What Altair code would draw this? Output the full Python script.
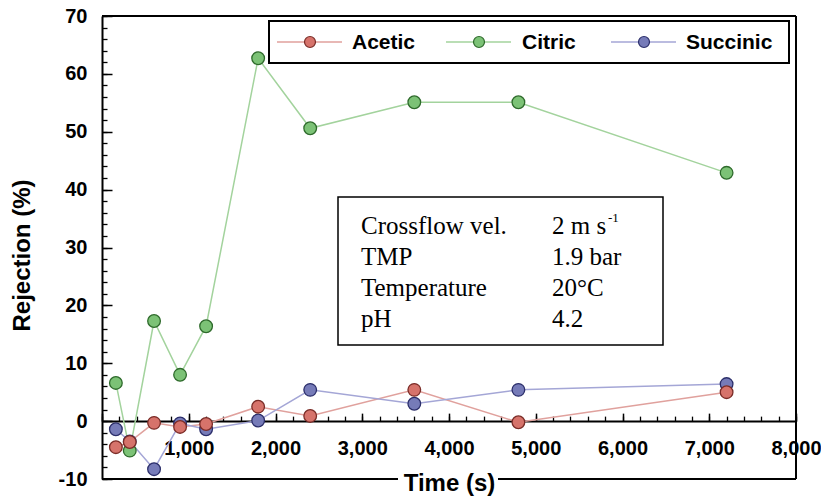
import altair as alt
import pandas as pd

# ---- data ----
times = [160, 320, 600, 900, 1200, 1800, 2400, 3600, 4800, 7200]
acetic = [-4.5, -3.6, -0.3, -1.0, -0.5, 2.5, 0.9, 5.4, -0.2, 5.0]
citric = [6.6, -5.1, 17.3, 8.0, 16.4, 62.7, 50.6, 55.1, 55.1, 42.9]
succinic = [-1.4, -3.5, -8.3, -0.4, -1.4, 0.1, 5.4, 3.0, 5.4, 6.4]

series_names = ["Acetic", "Citric", "Succinic"]
line_colors = ["#e0a19d", "#a3d39d", "#a4a6d6"]
fill_colors = ["#d6736b", "#7cc276", "#767bb8"]
edge_colors = ["#7a2c27", "#2e6a2b", "#2b2e6a"]

x_labels = [1000, 2000, 3000, 4000, 5000, 6000, 7000, 8000]
x_major = [0, 1000, 2000, 3000, 4000, 5000, 6000, 7000, 8000]
x_minor = list(range(0, 8001, 200))
y_major = [-10, 0, 10, 20, 30, 40, 50, 60, 70]
y_minor = list(range(-10, 71, 2))

info_keys = ["Crossflow vel.", "TMP", "Temperature", "pH"]
info_vals = ["2 m s", "1.9 bar", "20\u00b0C", "4.2"]
info_sup = "-1"

# ---- layout ----
W, H = 694, 463
X_DOM = [0, 8000]
Y_DOM = [-10, 70]
y0 = H * (Y_DOM[1] - 0) / (Y_DOM[1] - Y_DOM[0])  # pixel of y = 0

SANS = "Liberation Sans"
SERIF = "Liberation Serif"

rows = []
for name, vals in zip(series_names, [acetic, citric, succinic]):
    for t, v in zip(times, vals):
        rows.append({"time": t, "value": v, "series": name})
df = pd.DataFrame(rows)
draw_order = {"Succinic": 0, "Citric": 1, "Acetic": 2}
df_pts = df.assign(o=df["series"].map(draw_order)).sort_values("o", kind="stable").drop(columns="o")

xs = alt.Scale(domain=X_DOM, nice=False, zero=False)
ys = alt.Scale(domain=Y_DOM, nice=False, zero=False)

ax_x_labels = alt.Axis(
    orient="bottom", offset=-round(H - y0), values=x_labels,
    labelExpr="format(datum.value, ',d')",
    grid=False, ticks=False, tickSize=0, domain=True, domainColor="black",
    domainWidth=2, labelFont=SANS, labelFontWeight="bold", labelFontSize=20,
    labelColor="black", labelPadding=17, labelFlush=False, labelOverlap=False,
    title="Time (s)", titleFont=SANS, titleFontWeight="bold", titleFontSize=24,
    titleColor="black", titleX=W / 2, titleY=69, titleAlign="center",
    titleBaseline="alphabetic",
)
ax_x_major = alt.Axis(
    orient="top", offset=-y0, values=x_major, grid=False, labels=False,
    domain=False, ticks=True, tickSize=8, tickWidth=1.5, tickColor="black",
    title=None,
)
ax_x_minor = alt.Axis(
    orient="top", offset=-y0, values=x_minor, grid=False, labels=False,
    domain=False, ticks=True, tickSize=5, tickWidth=1.3, tickColor="black",
    title=None,
)
ax_y_labels = alt.Axis(
    orient="left", values=y_major, grid=False, ticks=False, tickSize=0,
    labelExpr="replace(format(datum.value, 'd'), '\u2212', '-')",
    domain=True, domainColor="black", domainWidth=2, labelFont=SANS,
    labelFontWeight="bold", labelFontSize=20, labelColor="black",
    labelPadding=15, labelFlush=False, labelOverlap=False,
    title="Rejection (%)", titleFont=SANS, titleFontWeight="bold",
    titleFontSize=24, titleColor="black", titleAngle=270, titleX=-68,
    titleY=239, titleAlign="center", titleBaseline="bottom",
)
ax_y_major = alt.Axis(
    orient="right", offset=-W, values=y_major, grid=False, labels=False,
    domain=False, ticks=True, tickSize=10, tickWidth=1.5, tickColor="black",
    title=None,
)
ax_y_minor = alt.Axis(
    orient="right", offset=-W, values=y_minor, grid=False, labels=False,
    domain=False, ticks=True, tickSize=5, tickWidth=1.3, tickColor="black",
    title=None,
)

lines = alt.Chart(df).mark_line(strokeWidth=1.5).encode(
    x=alt.X("time:Q", scale=xs, axis=ax_x_labels),
    y=alt.Y("value:Q", scale=ys, axis=ax_y_labels),
    color=alt.Color("series:N", scale=alt.Scale(domain=series_names, range=line_colors), legend=None),
)

points = alt.Chart(df_pts).mark_circle(size=160, strokeWidth=1.3, opacity=1).encode(
    x=alt.X("time:Q", scale=xs, axis=ax_x_major),
    y=alt.Y("value:Q", scale=ys, axis=ax_y_major),
    fill=alt.Fill("series:N", scale=alt.Scale(domain=series_names, range=fill_colors), legend=None),
    stroke=alt.Stroke("series:N", scale=alt.Scale(domain=series_names, range=edge_colors), legend=None),
)

minor_holder = alt.Chart(df).mark_circle(opacity=0).encode(
    x=alt.X("time:Q", scale=xs, axis=ax_x_minor),
    y=alt.Y("value:Q", scale=ys, axis=ax_y_minor),
)

one = pd.DataFrame({"k": [0]})


def rule(x1, x2, y1, y2, color="black", width=2):
    return alt.Chart(one).mark_rule(color=color, strokeWidth=width).encode(
        x=alt.value(x1), x2=alt.value(x2), y=alt.value(y1), y2=alt.value(y2)
    )


# frame (bottom edge broken by the axis title)
frame = [
    rule(0, W, 0, 0),
    rule(W, W, 0, H),
    rule(0, W / 2 - 51, H, H),
    rule(W / 2 + 49, W, H, H),
]

# legend box
LEG = dict(x1=167, x2=687, y1=5, y2=47)
leg_cy = (LEG["y1"] + LEG["y2"]) / 2
legend_layers = [
    alt.Chart(one).mark_rect(fill="white", stroke="black", strokeWidth=2).encode(
        x=alt.value(LEG["x1"]), x2=alt.value(LEG["x2"]),
        y=alt.value(LEG["y1"]), y2=alt.value(LEG["y2"]),
    )
]
sym_starts = [175, 344, 509]
lab_starts = [250, 420, 584]
for i, name in enumerate(series_names):
    s = sym_starts[i]
    legend_layers.append(rule(s, s + 65, leg_cy, leg_cy, color=line_colors[i], width=1.5))
    legend_layers.append(
        alt.Chart(one).mark_circle(size=120, strokeWidth=1.2, opacity=1,
                                   fill=fill_colors[i], stroke=edge_colors[i]).encode(
            x=alt.value(s + 33), y=alt.value(leg_cy)
        )
    )
    legend_layers.append(
        alt.Chart(pd.DataFrame({"series": [name]})).mark_text(
            font=SANS, fontWeight="bold", fontSize=21, color="black",
            align="left", baseline="middle",
        ).encode(x=alt.value(lab_starts[i]), y=alt.value(leg_cy + 1), text="series:N")
    )

# info box
BOX = dict(x1=236, x2=561, y1=181, y2=329)
info_layers = [
    alt.Chart(one).mark_rect(fill="white", stroke="black", strokeWidth=1.5).encode(
        x=alt.value(BOX["x1"]), x2=alt.value(BOX["x2"]),
        y=alt.value(BOX["y1"]), y2=alt.value(BOX["y2"]),
    )
]
for i, (k, v) in enumerate(zip(info_keys, info_vals)):
    yb = 218 + 31 * i
    info_layers.append(
        alt.Chart(pd.DataFrame({"t": [k]})).mark_text(
            font=SERIF, fontSize=25, color="black", align="left", baseline="alphabetic"
        ).encode(x=alt.value(259), y=alt.value(yb), text="t:N")
    )
    info_layers.append(
        alt.Chart(pd.DataFrame({"t": [v]})).mark_text(
            font=SERIF, fontSize=25, color="black", align="left", baseline="alphabetic"
        ).encode(x=alt.value(450), y=alt.value(yb), text="t:N")
    )
info_layers.append(
    alt.Chart(pd.DataFrame({"t": [info_sup]})).mark_text(
        font=SERIF, fontSize=13, color="black", align="left", baseline="alphabetic"
    ).encode(x=alt.value(506), y=alt.value(206), text="t:N")
)

chart = alt.layer(
    lines, points, minor_holder, *frame, *legend_layers, *info_layers
).resolve_axis(
    x="independent", y="independent"
).properties(
    width=W, height=H,
    autosize=alt.AutoSizeParams(type="none"),
    padding={"left": 102, "top": 16, "right": 821 - 102 - W, "bottom": 500 - 16 - H},
    background="white",
).configure_view(stroke=None)

chart.save("out.html", embed_options={"renderer": "svg", "actions": False})
